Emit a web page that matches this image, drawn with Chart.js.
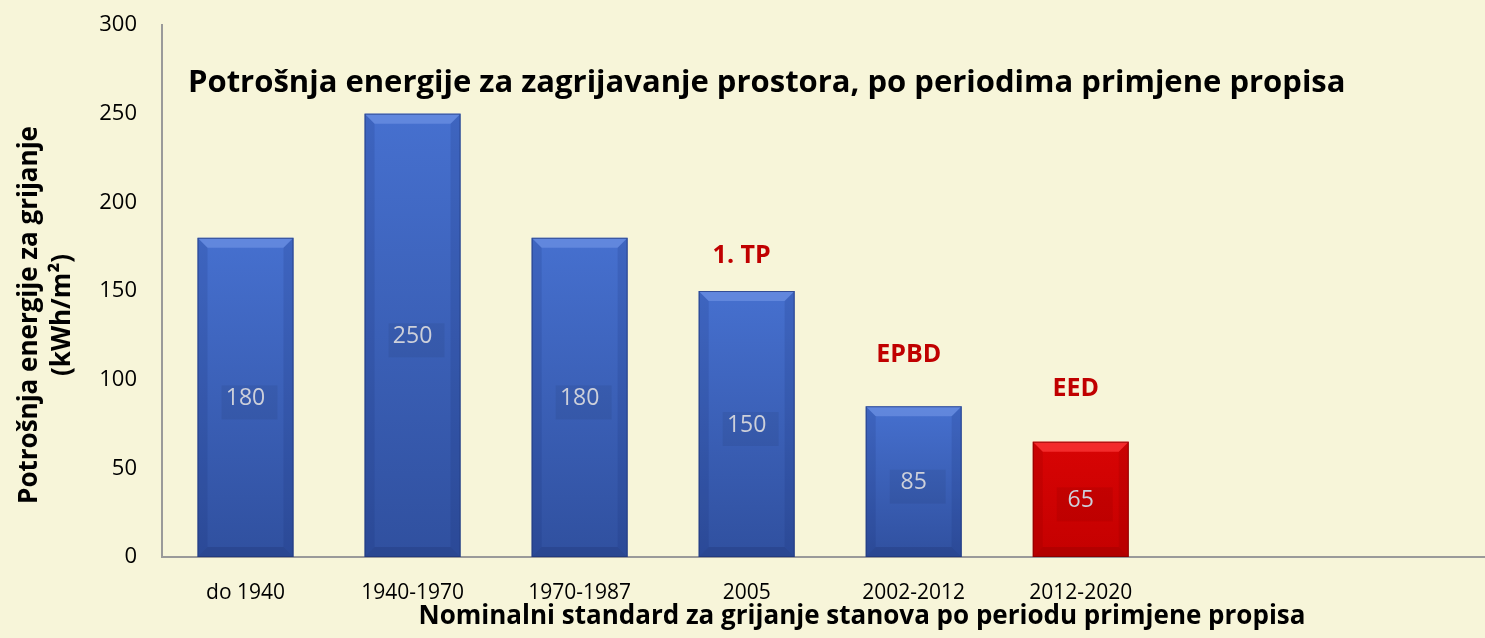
<!DOCTYPE html>
<html lang="hr">
<head>
<meta charset="UTF-8">
<title>Potrošnja energije za zagrijavanje prostora</title>
<style>
  html, body { margin: 0; padding: 0; background: #f7f5d9; }
  #wrap { width: 1485px; height: 638px; position: relative; }
</style>
</head>
<body>
<div id="wrap"><canvas id="chart" width="1485" height="638"></canvas></div>
<script src="https://cdn.jsdelivr.net/npm/chart.js"></script>
<script>
// podaci
const categories = ['do 1940', '1940-1970', '1970-1987', '2005', '2002-2012', '2012-2020'];
const values = [180, 250, 180, 150, 85, 65];
const yTicks = [0, 50, 100, 150, 200, 250, 300];
const notes = ['', '', '', '1. TP', 'EPBD', 'EED'];
const noteY = [null, null, null, 170, 114, 95];
const barKind = ['blue', 'blue', 'blue', 'blue', 'blue', 'red'];

const FONT = '"Open Sans", "Liberation Sans", sans-serif';
const chartTitle = 'Potrošnja energije za zagrijavanje prostora, po periodima primjene propisa';
const yTitle = ['Potrošnja energije za grijanje', '(kWh/m²)'];
const xTitle = 'Nominalni standard za grijanje stanova po periodu primjene propisa';

const palette = {
  blue: { top: '#4670cf', bottom: '#30509f', light: 'rgba(130,165,240,0.45)', side: 'rgba(20,40,110,0.15)', dark: 'rgba(20,35,90,0.2)', line: '#1f3578' },
  red:  { top: '#d80404', bottom: '#c40000', light: 'rgba(255,60,60,0.7)', side: 'rgba(120,0,0,0.15)', dark: 'rgba(110,0,0,0.2)', line: '#7a0000' }
};

// bevel na stupcima + vrijednosti
const bevelBars = {
  id: 'bevelBars',
  afterDatasetsDraw(chart) {
    const ctx = chart.ctx;
    const meta = chart.getDatasetMeta(0);
    meta.data.forEach((bar, i) => {
      const p = palette[barKind[i]];
      const l = bar.x - bar.width / 2, r = bar.x + bar.width / 2;
      const t = bar.y, b = bar.base, d = 10;
      ctx.save();
      const g = ctx.createLinearGradient(0, t, 0, b);
      g.addColorStop(0, p.top);
      g.addColorStop(1, p.bottom);
      ctx.fillStyle = g;
      ctx.fillRect(l, t, r - l, b - t);
      // gornji rub
      ctx.fillStyle = p.light;
      ctx.beginPath(); ctx.moveTo(l, t); ctx.lineTo(r, t); ctx.lineTo(r - d, t + d); ctx.lineTo(l + d, t + d); ctx.closePath(); ctx.fill();
      // bocni rubovi
      ctx.fillStyle = p.side;
      ctx.beginPath(); ctx.moveTo(l, t); ctx.lineTo(l + d, t + d); ctx.lineTo(l + d, b - d); ctx.lineTo(l, b); ctx.closePath(); ctx.fill();
      ctx.beginPath(); ctx.moveTo(r, t); ctx.lineTo(r, b); ctx.lineTo(r - d, b - d); ctx.lineTo(r - d, t + d); ctx.closePath(); ctx.fill();
      // donji rub
      ctx.fillStyle = p.dark;
      ctx.beginPath(); ctx.moveTo(l, b); ctx.lineTo(r, b); ctx.lineTo(r - d, b - d); ctx.lineTo(l + d, b - d); ctx.closePath(); ctx.fill();
      ctx.strokeStyle = p.line;
      ctx.globalAlpha = 0.7;
      ctx.lineWidth = 1;
      ctx.strokeRect(l + 0.5, t + 0.5, r - l - 1, b - t - 1);
      ctx.globalAlpha = 1;
      // oznaka vrijednosti
      const cy = (t + b) / 2;
      ctx.fillStyle = 'rgba(0,0,0,0.06)';
      ctx.fillRect(bar.x - 24, cy - 12, 56, 34);
      ctx.font = '23px ' + FONT;
      ctx.textAlign = 'center';
      ctx.textBaseline = 'middle';
      ctx.fillStyle = '#cdd0da';
      ctx.fillText(String(values[i]), bar.x, cy + 1);
      // napomena iznad
      if (notes[i]) {
        ctx.font = 'bold 25px ' + FONT;
        ctx.fillStyle = '#c00000';
        ctx.fillText(notes[i], bar.x - 5, chart.scales.y.getPixelForValue(noteY[i]));
      }
      ctx.restore();
    });
  }
};

// naslovi
const titles = {
  id: 'titles',
  afterDraw(chart) {
    const ctx = chart.ctx;
    const a = chart.chartArea;
    ctx.save();
    ctx.fillStyle = '#000';
    ctx.textBaseline = 'middle';
    ctx.font = 'bold 31px ' + FONT;
    ctx.textAlign = 'left';
    ctx.fillText(chartTitle, a.left + 26, 83);
    ctx.font = 'bold 26px ' + FONT;
    ctx.textAlign = 'center';
    ctx.fillText(xTitle, 862, 617);
    ctx.translate(30, 315);
    ctx.rotate(-Math.PI / 2);
    ctx.fillText(yTitle[0], 0, 0);
    ctx.fillText(yTitle[1], 0, 33);
    ctx.restore();
  }
};

const ctx = document.getElementById('chart').getContext('2d');
new Chart(ctx, {
  type: 'bar',
  data: {
    datasets: [{
      data: values.map((v, i) => ({ x: i, y: v })),
      backgroundColor: 'rgba(0,0,0,0)',
      borderWidth: 0,
      barThickness: 96
    }]
  },
  options: {
    responsive: false,
    animation: false,
    layout: { padding: { top: 25, left: 0, right: 0, bottom: 0 } },
    plugins: { legend: { display: false }, tooltip: { enabled: false } },
    scales: {
      x: {
        type: 'linear',
        offset: false,
        min: -0.5,
        max: 7.42,
        afterFit(s) { s.height = 81; s.paddingLeft = 0; s.paddingRight = 0; },
        afterBuildTicks(s) { s.ticks = categories.map((c, i) => ({ value: i })); },
        grid: { display: false, drawTicks: false },
        border: { color: '#9a9a9a', width: 2 },
        ticks: {
          autoSkip: false,
          maxRotation: 0,
          padding: 23,
          color: '#000',
          font: { family: FONT, size: 21 },
          callback: v => categories[v] ?? ''
        }
      },
      y: {
        min: 0,
        max: 300,
        afterFit(s) { s.width = 162; s.paddingTop = 0; s.paddingBottom = 0; },
        afterBuildTicks(s) { s.ticks = yTicks.map(v => ({ value: v })); },
        grid: { display: false, drawTicks: false },
        border: { color: '#9a9a9a', width: 2 },
        ticks: {
          padding: 25,
          color: '#000',
          font: { family: FONT, size: 22 }
        }
      }
    }
  },
  plugins: [bevelBars, titles]
});
</script>
</body>
</html>
